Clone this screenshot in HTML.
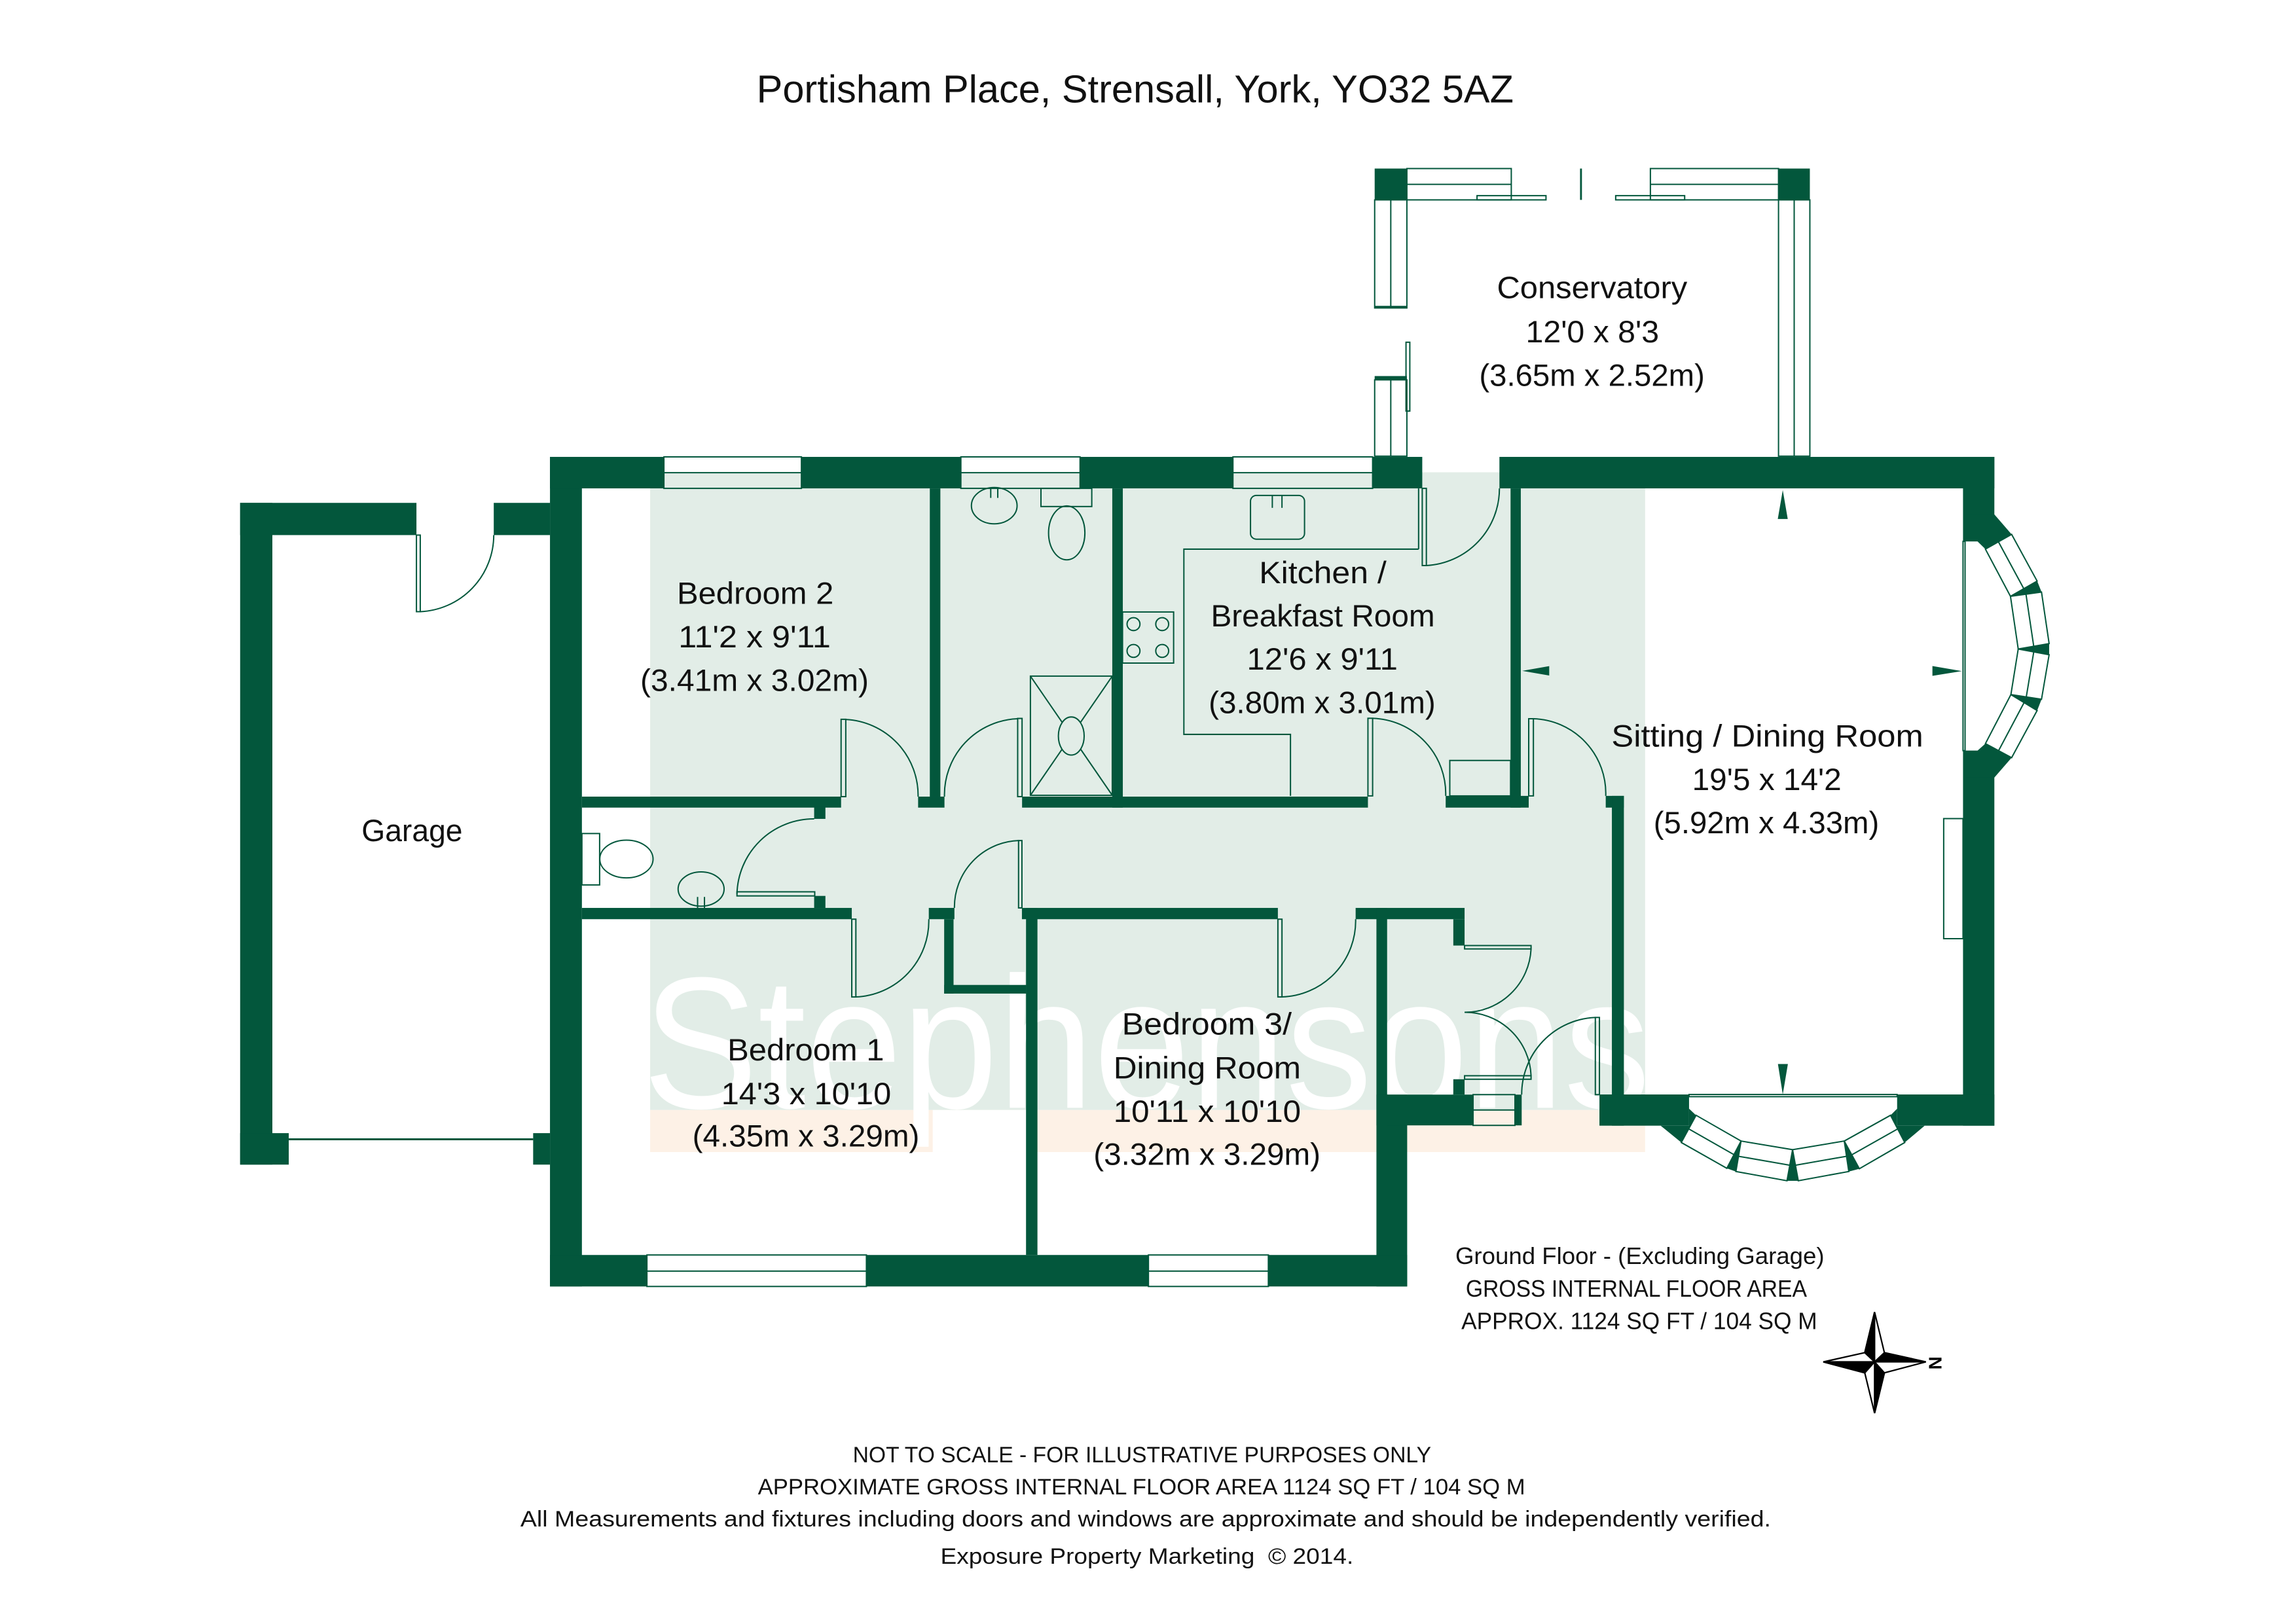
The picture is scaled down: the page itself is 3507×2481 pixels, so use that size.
<!DOCTYPE html>
<html><head><meta charset="utf-8">
<style>
html,body{margin:0;padding:0;background:#fff;}
svg{display:block;}
text{font-family:"Liberation Sans",sans-serif;fill:#111;}
</style></head><body>
<svg xmlns="http://www.w3.org/2000/svg" width="3507" height="2481" viewBox="0 0 1568 1109" preserveAspectRatio="none">
<defs><clipPath id="wm"><rect x="444" y="322.5" width="679.5" height="464.2"/></clipPath></defs>
<rect width="1568" height="1109" fill="#fff"/>

<!-- watermark background -->
<rect x="444" y="322.5" width="679.5" height="435.5" fill="#e2ede7"/>
<rect x="444" y="758" width="679.5" height="28.7" fill="#fdf1e6"/>
<rect x="637" y="758" width="64" height="28.7" fill="#fff"/>
<text x="439" y="756.5" font-size="128" textLength="688" lengthAdjust="spacingAndGlyphs" clip-path="url(#wm)" style="fill:#fff">Stephensons</text>

<!-- title -->
<text x="775.2" y="70" font-size="26.5" text-anchor="middle" textLength="517" lengthAdjust="spacingAndGlyphs">Portisham Place, Strensall, York, YO32 5AZ</text>

<!-- walls -->
<g fill="#03573c">
  <!-- garage -->
  <rect x="164" y="343.4" width="22" height="451.9"/>
  <rect x="164" y="343.4" width="120.4" height="22"/>
  <rect x="337.2" y="343.4" width="38.4" height="22"/>
  <rect x="164" y="773.8" width="33.2" height="21.5"/>
  <rect x="364.1" y="773.8" width="11.5" height="21.5"/>
  <!-- main left wall -->
  <rect x="375.6" y="312" width="21.8" height="566.5"/>
  <!-- top wall -->
  <rect x="375.6" y="312" width="77.8" height="21.5"/>
  <rect x="547.3" y="312" width="108.9" height="21.5"/>
  <rect x="737.6" y="312" width="104.4" height="21.5"/>
  <rect x="937.4" y="312" width="33.9" height="21.5"/>
  <rect x="1024" y="312" width="338" height="21.5"/>
  <!-- internal -->
  <rect x="635" y="333.5" width="7.2" height="210.5"/>
  <rect x="759.6" y="333.5" width="7.2" height="218"/>
  <rect x="397.4" y="544" width="177" height="7.5"/>
  <rect x="627" y="544" width="18" height="7.5"/>
  <rect x="698" y="544" width="236.2" height="7.5"/>
  <rect x="987.3" y="543.5" width="56.7" height="8"/>
  <rect x="1031.6" y="333.5" width="7" height="218"/>
  <rect x="1096.6" y="543.5" width="12.4" height="8"/>
  <rect x="1100.8" y="543.5" width="8.2" height="225.2"/>
  <!-- sitting right wall -->
  <rect x="1340.6" y="312" width="21.4" height="57.7"/>
  <rect x="1340.6" y="512.6" width="21.4" height="256.1"/>
  <!-- sitting bottom wall -->
  <rect x="1092.3" y="747.4" width="61.2" height="21.3"/>
  <rect x="1295.6" y="747.4" width="66.4" height="21.3"/>
  <!-- WC -->
  <rect x="556" y="551" width="7.7" height="8.2"/>
  <rect x="556" y="611.8" width="7.7" height="8.2"/>
  <rect x="397.4" y="620" width="184.3" height="7.7"/>
  <rect x="634.3" y="620" width="17.5" height="7.7"/>
  <!-- cupboard -->
  <rect x="644.8" y="627.7" width="6.4" height="50.8"/>
  <rect x="644.8" y="672.6" width="56" height="5.9"/>
  <!-- bed1/bed3 -->
  <rect x="700.7" y="620" width="7.8" height="237"/>
  <rect x="697.9" y="620" width="174.8" height="7.7"/>
  <rect x="925.8" y="620" width="74.4" height="7.7"/>
  <rect x="992.5" y="627.7" width="7.7" height="18"/>
  <rect x="992.5" y="737" width="7.7" height="10.5"/>
  <rect x="940" y="620" width="7.3" height="148.5"/>
  <rect x="940" y="747.5" width="21" height="131"/>
  <rect x="947.3" y="747.5" width="58.7" height="21"/>
  <rect x="1034.6" y="747.5" width="4.6" height="21"/>
  <!-- bottom wall -->
  <rect x="375.6" y="857" width="66.2" height="21.5"/>
  <rect x="591.7" y="857" width="192.6" height="21.5"/>
  <rect x="866.2" y="857" width="94.8" height="21.5"/>
  <!-- conservatory -->
  <rect x="938.8" y="115.1" width="22" height="21.4"/>
  <rect x="1214.6" y="115.1" width="21.4" height="21.4"/>
  <rect x="938.8" y="256.8" width="22" height="2.6"/>
  <!-- bay chunks -->
  <polygon points="1134.1,768.7 1148.2,780.2 1158.3,761.6 1153.5,757.1 1153.5,768.7"/>
  <polygon points="1314.4,768.7 1300.8,780.2 1291.1,761.6 1295.6,757.1 1295.6,768.7"/>
  <polygon points="1189,779.2 1179.3,797.8 1185.5,800"/>
  <polygon points="1224.2,785.1 1220.4,806.3 1228.1,806.3"/>
  <polygon points="1259.5,779.2 1262.6,800 1269.8,798.1"/>
  <polygon points="1362,351.3 1373.8,364.9 1355.9,375 1350.5,369.7 1342,369.7 1342,351.3"/>
  <polygon points="1342,512.6 1350.5,512.6 1355.9,507.8 1373.8,517.4 1362,531 1342,531"/>
  <polygon points="1373,407.2 1391.2,396.8 1394.2,404.3"/>
  <polygon points="1378.3,443.2 1399.4,439.5 1399.4,447.1"/>
  <polygon points="1373.3,474.3 1394.2,477.5 1391.2,485.2"/>
  <!-- measurement arrows -->
  <polygon points="1214.1,354.4 1220.9,354.4 1217.5,334.7"/>
  <polygon points="1214.2,726.6 1221,726.6 1217.5,747.4"/>
  <polygon points="1058,454.9 1058,461.3 1039.6,458.1"/>
  <polygon points="1319.7,454.8 1319.7,461.5 1339.8,458.3"/>
</g>

<!-- thin lines -->
<g fill="none" stroke="#03573c" stroke-width="0.9">
  <!-- garage door -->
  <line x1="197.2" y1="778" x2="364.1" y2="778" stroke-width="1.3"/>
  <!-- windows top -->
  <rect x="453.4" y="312" width="93.9" height="21.5"/><line x1="453.4" y1="322.8" x2="547.3" y2="322.8"/>
  <rect x="656.2" y="312" width="81.4" height="21.5"/><line x1="656.2" y1="322.8" x2="737.6" y2="322.8"/>
  <rect x="842" y="312" width="95.4" height="21.5"/><line x1="842" y1="322.8" x2="937.4" y2="322.8"/>
  <!-- windows bottom -->
  <rect x="441.8" y="857" width="149.9" height="21.5"/><line x1="441.8" y1="868" x2="591.7" y2="868"/>
  <rect x="784.3" y="857" width="81.9" height="21.5"/><line x1="784.3" y1="868" x2="866.2" y2="868"/>
  <rect x="1006" y="747.5" width="28.6" height="21"/><line x1="1006" y1="758" x2="1034.6" y2="758"/>
  <!-- conservatory -->
  <rect x="960.8" y="115.1" width="71.3" height="21.4"/><line x1="960.8" y1="125.9" x2="1032.1" y2="125.9"/>
  <rect x="1127.1" y="115.1" width="87.5" height="21.4"/><line x1="1127.1" y1="125.9" x2="1214.6" y2="125.9"/>
  <rect x="1008.7" y="133.6" width="47.1" height="2.9"/>
  <rect x="1103.4" y="133.6" width="47.1" height="2.9"/>
  <line x1="1079.7" y1="115.1" x2="1079.7" y2="136.5" stroke-width="1.3"/>
  <rect x="938.8" y="136.5" width="22" height="73.8"/><line x1="949.8" y1="136.5" x2="949.8" y2="210.3"/>
  <line x1="938.8" y1="209.6" x2="960.8" y2="209.6" stroke-width="1.5"/>
  <rect x="938.8" y="259.4" width="22" height="52.1"/><line x1="949.8" y1="259.4" x2="949.8" y2="311.5"/>
  <rect x="1214.6" y="136.5" width="21.4" height="175"/><line x1="1225.3" y1="136.5" x2="1225.3" y2="311.5"/>
  <rect x="960.2" y="233.7" width="2.6" height="47"/>
  <!-- door leaves -->
  <rect x="284.4" y="365.4" width="2.6" height="52.3"/>
  <rect x="574.4" y="491.2" width="3.2" height="52.8"/>
  <rect x="695" y="490.6" width="3" height="53.4"/>
  <rect x="503.3" y="609" width="53.1" height="2.8"/>
  <rect x="581.7" y="627.7" width="2.8" height="53.1"/>
  <rect x="695.6" y="574" width="2.3" height="46"/>
  <rect x="872.7" y="627.7" width="2.8" height="53.1"/>
  <rect x="1000.2" y="645.7" width="45.4" height="2.3"/>
  <rect x="1000.2" y="734.6" width="45.4" height="2.4"/>
  <rect x="1089.5" y="694.8" width="2.8" height="52.7"/>
  <rect x="934.2" y="490.5" width="3.2" height="53"/>
  <rect x="1044" y="490.8" width="3.2" height="52.7"/>
  <rect x="971.3" y="333.5" width="2.8" height="52.7"/>
  <!-- door arcs -->
  <path d="M286.9 417.7 A52.5 52.5 0 0 0 337.2 365.4"/>
  <path d="M577.6 491.3 A52 52 0 0 1 627 544"/>
  <path d="M695 490.8 A52 52 0 0 0 645 544"/>
  <path d="M503.3 610.5 A52.5 52.5 0 0 1 556 559.2"/>
  <path d="M584.5 680.8 A52 52 0 0 0 634.3 627.7"/>
  <path d="M695.6 574 A45.5 45.5 0 0 0 651.8 620"/>
  <path d="M875.5 680.8 A52 52 0 0 0 925.8 627.7"/>
  <path d="M1045.6 648 A45.5 45.5 0 0 1 1000.2 691.3"/>
  <path d="M1000.2 691.3 A45 45 0 0 1 1045.6 734.6"/>
  <path d="M1089.5 694.8 A52.5 52.5 0 0 0 1039.2 747.5"/>
  <path d="M937.4 490.5 A51.5 51.5 0 0 1 987.3 543.5"/>
  <path d="M1047.2 490.8 A51 51 0 0 1 1096.6 543.5"/>
  <path d="M974.1 386.2 A52.7 52.7 0 0 0 1024 333.5"/>
  <!-- bathroom -->
  <ellipse cx="679" cy="345.3" rx="15.6" ry="12.4"/>
  <line x1="676.6" y1="333.5" x2="676.6" y2="340"/><line x1="681.4" y1="333.5" x2="681.4" y2="340"/>
  <rect x="710.9" y="333.5" width="34.7" height="12.4"/>
  <ellipse cx="728.5" cy="363.9" rx="12.4" ry="18.4"/>
  <rect x="703.7" y="461.7" width="55.9" height="81.4"/>
  <line x1="703.7" y1="461.7" x2="759.6" y2="543.1"/><line x1="759.6" y1="461.7" x2="703.7" y2="543.1"/>
  <ellipse cx="731.6" cy="502.6" rx="8.8" ry="13" fill="#e2ede7"/>
  <!-- WC -->
  <rect x="397.4" y="569.2" width="12.1" height="35.1"/>
  <ellipse cx="427.8" cy="586.6" rx="18.2" ry="12.9"/>
  <ellipse cx="478.8" cy="607.1" rx="15.7" ry="11.7"/>
  <line x1="476.4" y1="612.5" x2="476.4" y2="620"/><line x1="481.1" y1="612.5" x2="481.1" y2="620"/>
  <!-- kitchen -->
  <line x1="968.8" y1="333.5" x2="968.8" y2="375"/>
  <polyline points="968.8,375 808.5,375 808.5,501.5 881.3,501.5 881.3,543.5"/>
  <rect x="854" y="338.3" width="36.9" height="29.9" rx="4"/>
  <line x1="868.9" y1="338.3" x2="868.9" y2="346.8"/><line x1="875.5" y1="338.3" x2="875.5" y2="346.8"/>
  <rect x="766.6" y="417.9" width="34.9" height="34.9"/>
  <circle cx="774.1" cy="426.2" r="4.4"/><circle cx="793.7" cy="426.2" r="4.4"/>
  <circle cx="774.1" cy="444.5" r="4.4"/><circle cx="793.7" cy="444.5" r="4.4"/>
  <rect x="990.1" y="519.3" width="41.5" height="24.2"/>
  <!-- sitting room -->
  <rect x="1327.4" y="559" width="13.2" height="82"/>
  <rect x="1340.6" y="369.7" width="1.4" height="142.9"/>
  <rect x="1153.5" y="747.4" width="142.1" height="1.5"/>
</g>

<!-- bay windows -->
<g fill="#fff" stroke="#03573c" stroke-width="0.9">
  <polygon points="1158.3,761.6 1189,779.2 1179.3,797.8 1148.2,780.2"/>
  <polygon points="1189,779.2 1224.2,785.1 1220.4,806.3 1185.5,800"/>
  <polygon points="1224.2,785.1 1259.5,779.2 1262.6,800 1228.1,806.3"/>
  <polygon points="1259.5,779.2 1291.1,761.6 1300.8,780.2 1269.8,798.1"/>
  <line x1="1153.3" y1="770.9" x2="1184.2" y2="788.5"/>
  <line x1="1187.3" y1="789.6" x2="1222.3" y2="795.7"/>
  <line x1="1226.2" y1="795.7" x2="1261" y2="789.6"/>
  <line x1="1264.6" y1="788.6" x2="1296" y2="770.9"/>
  <polygon points="1355.9,375 1373,407.2 1391.2,396.8 1373.8,364.9"/>
  <polygon points="1373,407.2 1378.3,443.2 1399.4,439.5 1394.2,404.3"/>
  <polygon points="1378.3,443.2 1373.3,474.3 1394.2,477.5 1399.4,447.1"/>
  <polygon points="1373.3,474.3 1355.9,507.8 1373.8,517.4 1391.2,485.2"/>
  <line x1="1364.8" y1="370" x2="1382.1" y2="402"/>
  <line x1="1383.6" y1="405.8" x2="1388.9" y2="441.4"/>
  <line x1="1388.9" y1="445.2" x2="1383.8" y2="475.9"/>
  <line x1="1382.3" y1="479.8" x2="1364.9" y2="512.6"/>
</g>
<g fill="#03573c">
  <polygon points="1189,779.2 1179.3,797.8 1185.5,800"/>
  <polygon points="1224.2,785.1 1220.4,806.3 1228.1,806.3"/>
  <polygon points="1259.5,779.2 1262.6,800 1269.8,798.1"/>
  <polygon points="1373,407.2 1391.2,396.8 1394.2,404.3"/>
  <polygon points="1378.3,443.2 1399.4,439.5 1399.4,447.1"/>
  <polygon points="1373.3,474.3 1394.2,477.5 1391.2,485.2"/>
</g>

<!-- room labels -->
<g font-size="21" text-anchor="middle">
  <text x="281.4" y="574.5" textLength="69" lengthAdjust="spacingAndGlyphs">Garage</text>
  <text x="515.8" y="412.4" textLength="107" lengthAdjust="spacingAndGlyphs">Bedroom 2</text>
  <text x="515.3" y="442.1" textLength="104" lengthAdjust="spacingAndGlyphs">11'2 x 9'11</text>
  <text x="515.3" y="471.7" textLength="156" lengthAdjust="spacingAndGlyphs">(3.41m x 3.02m)</text>
  <text x="903.4" y="398.2" textLength="87" lengthAdjust="spacingAndGlyphs">Kitchen /</text>
  <text x="903.4" y="427.8" textLength="153" lengthAdjust="spacingAndGlyphs">Breakfast Room</text>
  <text x="903" y="457.3" textLength="103" lengthAdjust="spacingAndGlyphs">12'6 x 9'11</text>
  <text x="902.9" y="486.9" textLength="155" lengthAdjust="spacingAndGlyphs">(3.80m x 3.01m)</text>
  <text x="1087.3" y="203.7" textLength="130" lengthAdjust="spacingAndGlyphs">Conservatory</text>
  <text x="1087.5" y="233.7" textLength="91" lengthAdjust="spacingAndGlyphs">12'0 x 8'3</text>
  <text x="1087.2" y="263.6" textLength="154" lengthAdjust="spacingAndGlyphs">(3.65m x 2.52m)</text>
  <text x="550.3" y="724.1" textLength="107" lengthAdjust="spacingAndGlyphs">Bedroom 1</text>
  <text x="550.6" y="754" textLength="116" lengthAdjust="spacingAndGlyphs">14'3 x 10'10</text>
  <text x="550.4" y="783" textLength="155" lengthAdjust="spacingAndGlyphs">(4.35m x 3.29m)</text>
  <text x="824.2" y="706.5" textLength="116" lengthAdjust="spacingAndGlyphs">Bedroom 3/</text>
  <text x="824.4" y="736.5" textLength="128" lengthAdjust="spacingAndGlyphs">Dining Room</text>
  <text x="824.4" y="766.2" textLength="128" lengthAdjust="spacingAndGlyphs">10'11 x 10'10</text>
  <text x="824.3" y="795.4" textLength="155" lengthAdjust="spacingAndGlyphs">(3.32m x 3.29m)</text>
  <text x="1207" y="509.7" textLength="213" lengthAdjust="spacingAndGlyphs">Sitting / Dining Room</text>
  <text x="1206.6" y="539.5" textLength="102" lengthAdjust="spacingAndGlyphs">19'5 x 14'2</text>
  <text x="1206.3" y="569" textLength="154" lengthAdjust="spacingAndGlyphs">(5.92m x 4.33m)</text>
</g>

<!-- ground floor area -->
<g font-size="16" text-anchor="middle">
  <text x="1119.9" y="863.2" textLength="252" lengthAdjust="spacingAndGlyphs">Ground Floor - (Excluding Garage)</text>
  <text x="1117.5" y="885.5" textLength="233" lengthAdjust="spacingAndGlyphs">GROSS INTERNAL FLOOR AREA</text>
  <text x="1119.5" y="907.7" textLength="243" lengthAdjust="spacingAndGlyphs">APPROX. 1124 SQ FT / 104 SQ M</text>
</g>

<!-- compass -->
<g stroke="#000" stroke-width="1" stroke-linejoin="miter">
  <polygon points="1280.2,896 1286.9,923.7 1315.2,930 1286.9,937.5 1280.2,965 1273.5,937.5 1245.2,930 1273.5,923.7" fill="#fff"/>
  <polygon points="1280.2,896 1273.5,923.7 1280.2,930" fill="#000"/>
  <polygon points="1286.9,923.7 1315.2,930 1280.2,930" fill="#000"/>
  <polygon points="1280.2,930 1286.9,937.5 1280.2,965" fill="#000"/>
  <polygon points="1245.2,930 1280.2,930 1273.5,937.5" fill="#000"/>
</g>
<text transform="translate(1321.6,930.8) rotate(90)" font-size="12.5" font-weight="bold" text-anchor="middle" dominant-baseline="central" style="fill:#000">N</text>

<!-- footer -->
<g font-size="15.5" text-anchor="middle">
  <text x="779.9" y="998.5" textLength="395" lengthAdjust="spacingAndGlyphs">NOT TO SCALE - FOR ILLUSTRATIVE PURPOSES ONLY</text>
  <text x="779.6" y="1020.6" textLength="524" lengthAdjust="spacingAndGlyphs">APPROXIMATE GROSS INTERNAL FLOOR AREA 1124 SQ FT / 104 SQ M</text>
  <text x="782.4" y="1042.5" textLength="854" lengthAdjust="spacingAndGlyphs">All Measurements and fixtures including doors and windows are approximate and should be independently verified.</text>
  <text x="783.3" y="1067.8" textLength="282" lengthAdjust="spacingAndGlyphs">Exposure Property Marketing&#160; © 2014.</text>
</g>
</svg>
</body></html>
